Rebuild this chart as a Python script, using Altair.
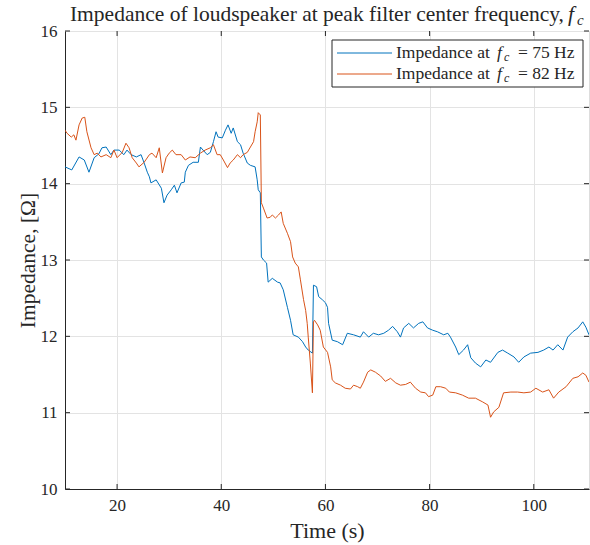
import altair as alt
import pandas as pd

# ---- data ----
t_75 = [10.0, 11.3, 12.7, 13.7, 14.6, 15.6, 16.5, 17.1, 17.9, 18.8, 19.4, 20.4, 21.3, 21.9, 22.7,
        23.7, 24.6, 25.2, 25.8, 26.2, 26.5, 27.5, 28.5, 29.0, 29.6, 30.4, 31.0, 31.5, 32.3, 32.9,
        33.1, 33.7, 34.6, 35.6, 36.0, 36.5, 37.3, 37.9, 38.5, 39.0, 39.4, 40.2, 40.8, 41.3, 41.9,
        42.3, 43.1, 43.7, 44.2, 45.0, 45.6, 46.5, 46.9, 47.1, 47.5, 47.7, 48.1, 48.7, 49.0, 49.8,
        50.8, 51.3, 51.9, 52.7, 53.3, 53.8, 54.8, 55.6, 56.2, 56.7, 57.5, 57.7, 58.3, 58.7, 59.4,
        60.0, 60.4, 60.6, 61.3, 62.3, 63.3, 64.2, 65.4, 66.7, 67.3, 68.3, 69.2, 70.2, 71.2, 72.1,
        72.9, 73.8, 74.4, 75.0, 76.0, 76.9, 77.9, 78.7, 79.6, 80.6, 81.5, 82.7, 83.5, 84.0, 85.0,
        85.6, 86.5, 87.3, 87.9, 88.8, 89.8, 90.8, 91.7, 93.1, 94.0, 95.0, 96.2, 97.1, 98.1, 99.4,
        100.8, 101.9, 102.9, 103.7, 104.6, 105.6, 106.5, 107.5, 108.5, 109.4, 110.0, 110.6]
z_75 = [14.22, 14.18, 14.35, 14.31, 14.15, 14.34, 14.39, 14.47, 14.48, 14.38, 14.44, 14.44, 14.38, 14.44, 14.38,
        14.35, 14.38, 14.27, 14.15, 14.09, 14.01, 14.05, 13.94, 13.75, 13.85, 13.92, 13.98, 13.88, 14.01, 14.02,
        14.15, 14.24, 14.28, 14.28, 14.48, 14.44, 14.38, 14.41, 14.55, 14.68, 14.61, 14.60, 14.70, 14.77, 14.66,
        14.73, 14.55, 14.51, 14.40, 14.27, 14.24, 14.22, 14.05, 13.92, 13.88, 13.04, 13.00, 12.96, 12.71, 12.76,
        12.71, 12.70, 12.61, 12.38, 12.21, 12.02, 11.99, 11.93, 11.86, 11.82, 11.78, 12.67, 12.65, 12.52, 12.48,
        12.44, 12.38, 12.17, 11.95, 11.93, 11.89, 12.04, 12.02, 11.99, 12.06, 11.99, 12.04, 12.02, 12.04, 12.08,
        12.13, 12.06, 11.99, 12.11, 12.17, 12.11, 12.17, 12.19, 12.11, 12.08, 12.06, 12.02, 12.04, 11.99, 11.86,
        11.76, 11.82, 11.89, 11.72, 11.65, 11.60, 11.69, 11.66, 11.79, 11.82, 11.78, 11.73, 11.66, 11.73, 11.78,
        11.79, 11.82, 11.86, 11.82, 11.89, 11.82, 11.99, 12.06, 12.11, 12.19, 12.12, 12.02]

t_82 = [10.0, 10.4, 11.2, 11.7, 12.1, 12.7, 13.3, 13.8, 14.2, 15.0, 15.6, 16.2, 16.9, 17.9, 18.8,
        19.4, 20.0, 21.0, 21.7, 22.3, 22.9, 23.7, 24.2, 25.2, 26.2, 26.7, 27.5, 28.1, 28.7, 29.4,
        30.0, 30.6, 31.3, 32.3, 33.1, 34.0, 35.0, 36.0, 36.9, 37.9, 38.5, 39.2, 39.8, 40.4, 41.2,
        41.7, 42.3, 43.1, 43.7, 44.2, 45.0, 45.6, 46.2, 46.5, 46.9, 47.1, 47.5, 47.7, 48.1, 48.8,
        49.4, 49.8, 50.4, 51.0, 51.5, 51.9, 52.7, 53.3, 53.7, 54.2, 54.8, 55.2, 55.8, 56.2, 56.5,
        56.7, 57.1, 57.5, 57.7, 57.9, 58.5, 59.0, 59.6, 60.4, 61.0, 61.3, 61.9, 62.9, 63.8, 64.8,
        65.4, 66.2, 66.7, 67.3, 68.1, 68.7, 69.6, 70.6, 71.5, 72.5, 73.5, 74.4, 75.4, 76.3, 77.3,
        78.3, 79.2, 79.8, 80.6, 81.2, 82.1, 83.1, 83.8, 85.0, 86.3, 87.5, 88.8, 90.2, 91.2, 91.7,
        92.3, 93.3, 94.2, 95.6, 96.9, 98.1, 99.4, 100.4, 101.7, 102.9, 103.8, 104.8, 106.2, 107.5,
        108.5, 109.4, 110.0, 110.6]
z_82 = [14.70, 14.66, 14.61, 14.64, 14.57, 14.77, 14.86, 14.87, 14.68, 14.47, 14.38, 14.40, 14.35, 14.38, 14.34,
        14.44, 14.34, 14.41, 14.53, 14.47, 14.34, 14.27, 14.22, 14.28, 14.38, 14.40, 14.34, 14.47, 14.14, 14.34,
        14.40, 14.44, 14.38, 14.38, 14.31, 14.35, 14.34, 14.40, 14.44, 14.47, 14.51, 14.38, 14.38, 14.31, 14.21,
        14.27, 14.31, 14.38, 14.34, 14.38, 14.41, 14.48, 14.55, 14.68, 14.81, 14.93, 14.90, 13.75, 13.68, 13.55,
        13.56, 13.59, 13.55, 13.59, 13.63, 13.48, 13.35, 13.24, 13.04, 12.96, 12.91, 12.74, 12.48, 12.34, 12.17,
        11.99, 11.65, 11.26, 12.19, 12.21, 12.15, 12.08, 11.86, 11.79, 11.60, 11.43, 11.39, 11.36, 11.32, 11.31,
        11.36, 11.34, 11.32, 11.40, 11.53, 11.56, 11.53, 11.48, 11.41, 11.45, 11.39, 11.36, 11.37, 11.40, 11.32,
        11.27, 11.26, 11.21, 11.23, 11.34, 11.34, 11.32, 11.27, 11.26, 11.23, 11.19, 11.19, 11.14, 11.10, 10.94,
        11.01, 11.07, 11.26, 11.27, 11.27, 11.26, 11.27, 11.32, 11.27, 11.30, 11.19, 11.27, 11.34, 11.45,
        11.47, 11.52, 11.49, 11.40]

freqs = [75, 82]
series_names = ["Impedance at fc = 75 Hz", "Impedance at fc = 82 Hz"]
x_ticks = [20, 40, 60, 80, 100]
y_ticks = [10, 11, 12, 13, 14, 15, 16]
colors = ["#0072BD", "#D95319"]

df = pd.concat([
    pd.DataFrame({"t": t_75, "z": z_75, "s": series_names[0]}),
    pd.DataFrame({"t": t_82, "z": z_82, "s": series_names[1]}),
])

W, H = 524, 458
FONT = "Liberation Serif"
INK = "#262626"
GRID = "#e3e3e3"

xs = alt.Scale(domain=[10, 110.6], nice=False, zero=False)
ys = alt.Scale(domain=[10, 16], nice=False, zero=False)

lines = alt.Chart(df).mark_line(strokeWidth=1, clip=True).encode(
    x=alt.X("t:Q", scale=xs, title="Time (s)",
            axis=alt.Axis(values=x_ticks, format="d", ticks=False, grid=True, gridColor=GRID,
                          domainColor=INK, labelColor=INK, labelFont=FONT, labelFontSize=17,
                          labelPadding=8, titleFont=FONT, titleFontSize=22, titleFontWeight="normal",
                          titleColor=INK, titleX=262, titleY=41, titleBaseline="middle")),
    y=alt.Y("z:Q", scale=ys, title="Impedance, [Ω]",
            axis=alt.Axis(values=y_ticks, format="d", ticks=False, grid=True, gridColor=GRID,
                          domainColor=INK, labelColor=INK, labelFont=FONT, labelFontSize=17,
                          labelPadding=8, titleFont=FONT, titleFontSize=21.5, titleFontWeight="normal",
                          titleColor=INK, titleX=-37, titleY=229, titleAngle=-90,
                          titleBaseline="middle", titleAlign="center")),
    color=alt.Color("s:N", scale=alt.Scale(domain=series_names, range=colors), legend=None),
    detail="s:N",
)

xt = pd.DataFrame({"v": x_ticks})
yt = pd.DataFrame({"v": y_ticks})
tick_layers = [
    alt.Chart(xt).mark_rule(color=INK, strokeWidth=1).encode(
        x=alt.X("v:Q", scale=xs), y=alt.value(H), y2=alt.value(H - 5)),
    alt.Chart(xt).mark_rule(color=INK, strokeWidth=1).encode(
        x=alt.X("v:Q", scale=xs), y=alt.value(0), y2=alt.value(5)),
    alt.Chart(yt).mark_rule(color=INK, strokeWidth=1).encode(
        y=alt.Y("v:Q", scale=ys), x=alt.value(0), x2=alt.value(5)),
    alt.Chart(yt).mark_rule(color=INK, strokeWidth=1).encode(
        y=alt.Y("v:Q", scale=ys), x=alt.value(W), x2=alt.value(W - 5)),
]

one = alt.Data(values=[{"a": 1}])

def txt(s, x, y, size, align="left", italic=False, baseline="middle", color=INK):
    kw = dict(font=FONT, fontSize=size, align=align, baseline=baseline, color=color)
    if italic:
        kw["fontStyle"] = "italic"
    return alt.Chart(one).mark_text(**kw).encode(
        x=alt.value(x), y=alt.value(y), text=alt.value(s))

# title with subscript f_c
title_layers = [
    txt("Impedance of loudspeaker at peak filter center frequency,", 499, -10, 21.5, align="right",
        baseline="alphabetic"),
    txt("f", 503, -10, 21.5, italic=True, baseline="alphabetic"),
    txt("c", 512, -6, 15, italic=True, baseline="alphabetic"),
]

# legend box
legend_layers = [
    alt.Chart(one).mark_rect(fill="white", stroke=INK, strokeWidth=1).encode(
        x=alt.value(267), x2=alt.value(518), y=alt.value(9), y2=alt.value(56)),
]
row_y = [22, 43]
for i, f in enumerate(freqs):
    yy = row_y[i]
    legend_layers += [
        alt.Chart(one).mark_rule(color=colors[i], strokeWidth=1).encode(
            x=alt.value(272), x2=alt.value(327), y=alt.value(yy)),
        txt("Impedance at", 331, yy + 5, 17.5, baseline="alphabetic"),
        txt("f", 432, yy + 5, 17.5, italic=True, baseline="alphabetic"),
        txt("c", 439, yy + 8, 12, italic=True, baseline="alphabetic"),
        txt(f"= {f} Hz", 453, yy + 5, 17.5, baseline="alphabetic"),
    ]

chart = alt.layer(lines, *tick_layers, *title_layers, *legend_layers).properties(
    width=W, height=H,
    autosize=alt.AutoSizeParams(type="none"),
    padding={"left": 65, "top": 31, "right": 1, "bottom": 56},
).configure_view(stroke=INK, strokeWidth=1).configure(background="white")

chart.save("out.html", embed_options={"renderer": "svg", "actions": False})
